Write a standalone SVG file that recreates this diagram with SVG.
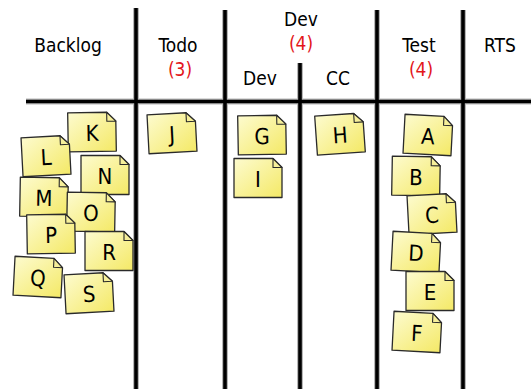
<svg xmlns="http://www.w3.org/2000/svg" width="531" height="389" viewBox="0 0 531 389">
<style>
.hdr{font-family:"DejaVu Sans Condensed","DejaVu Sans",sans-serif;font-stretch:condensed;font-size:19px;fill:#000;text-anchor:middle}
.red{fill:#e3161b}
.halo{stroke:#b8b8b8;stroke-width:6;fill:none}
.ln{stroke:#000;stroke-width:3.6;fill:none}
.body{fill:url(#ng);stroke:#2a2a2a;stroke-width:1.3;stroke-linejoin:round}
.fold{fill:#f6ef9a;stroke:#2a2a2a;stroke-width:1.1;stroke-linejoin:round}
.lt{font-family:"DejaVu Sans Condensed","DejaVu Sans",sans-serif;font-stretch:condensed;font-size:22px;fill:#000;text-anchor:middle}
</style>
<defs>
<linearGradient id="ng" x1="0" y1="0" x2="1" y2="1">
<stop offset="0" stop-color="#fdfbcf"/>
<stop offset="1" stop-color="#f4e966"/>
</linearGradient>
<g id="note">
<path class="body" d="M-24,-19.5 H15 L24,-10.5 V19.5 H-24 Z"/>
<path class="fold" d="M15,-19.5 V-10.5 H24 Z"/>
</g>
</defs>
<g id="grid">
<g class="halo">
<line x1="26" y1="101.5" x2="531" y2="101.5"/>
<line x1="136" y1="8" x2="136" y2="389"/>
<line x1="225" y1="10" x2="225" y2="389"/>
<line x1="300" y1="63" x2="300" y2="389"/>
<line x1="377" y1="10" x2="377" y2="389"/>
<line x1="463" y1="10" x2="463" y2="389"/>
</g>
<g class="ln">
<line x1="26" y1="101.5" x2="531" y2="101.5"/>
<line x1="136" y1="8" x2="136" y2="389"/>
<line x1="225" y1="10" x2="225" y2="389"/>
<line x1="300" y1="63" x2="300" y2="389"/>
<line x1="377" y1="10" x2="377" y2="389"/>
<line x1="463" y1="10" x2="463" y2="389"/>
</g>
</g>
<g id="headers">
<text class="hdr" x="68" y="52">Backlog</text>
<text class="hdr" x="178" y="52">Todo</text>
<text class="hdr red" x="180" y="76">(3)</text>
<text class="hdr" x="301" y="26">Dev</text>
<text class="hdr red" x="301" y="50">(4)</text>
<text class="hdr" x="260" y="85">Dev</text>
<text class="hdr" x="338" y="85">CC</text>
<text class="hdr" x="419" y="52">Test</text>
<text class="hdr red" x="421" y="76">(4)</text>
<text class="hdr" x="500" y="52">RTS</text>
</g>
<g id="note-K" transform="translate(92,132) rotate(-1)"><use href="#note"/><text class="lt" y="9">K</text></g>
<g id="note-L" transform="translate(46,156) rotate(-3)"><use href="#note"/><text class="lt" y="9">L</text></g>
<g id="note-N" transform="translate(105,175) rotate(0)"><use href="#note"/><text class="lt" y="9">N</text></g>
<g id="note-M" transform="translate(44,197) rotate(1)"><use href="#note"/><text class="lt" y="9">M</text></g>
<g id="note-O" transform="translate(91,212) rotate(1)"><use href="#note"/><text class="lt" y="9">O</text></g>
<g id="note-P" transform="translate(51,234) rotate(-1)"><use href="#note"/><text class="lt" y="9">P</text></g>
<g id="note-R" transform="translate(109,251) rotate(0)"><use href="#note"/><text class="lt" y="9">R</text></g>
<g id="note-Q" transform="translate(38,277) rotate(3)"><use href="#note"/><text class="lt" y="9">Q</text></g>
<g id="note-S" transform="translate(89,293) rotate(-3)"><use href="#note"/><text class="lt" y="9">S</text></g>
<g id="note-J" transform="translate(172,133) rotate(-3)"><use href="#note"/><text class="lt" y="9">J</text></g>
<g id="note-G" transform="translate(262,135) rotate(-1)"><use href="#note"/><text class="lt" y="9">G</text></g>
<g id="note-I" transform="translate(258,178) rotate(0)"><use href="#note"/><text class="lt" y="9">I</text></g>
<g id="note-H" transform="translate(340,134) rotate(-4)"><use href="#note"/><text class="lt" y="9">H</text></g>
<g id="note-A" transform="translate(428,135) rotate(3)"><use href="#note"/><text class="lt" y="9">A</text></g>
<g id="note-B" transform="translate(416,176) rotate(1)"><use href="#note"/><text class="lt" y="9">B</text></g>
<g id="note-C" transform="translate(432,214) rotate(-3)"><use href="#note"/><text class="lt" y="9">C</text></g>
<g id="note-D" transform="translate(416,252) rotate(3)"><use href="#note"/><text class="lt" y="9">D</text></g>
<g id="note-E" transform="translate(430,291) rotate(0)"><use href="#note"/><text class="lt" y="9">E</text></g>
<g id="note-F" transform="translate(417,332) rotate(3)"><use href="#note"/><text class="lt" y="9">F</text></g>
</svg>
